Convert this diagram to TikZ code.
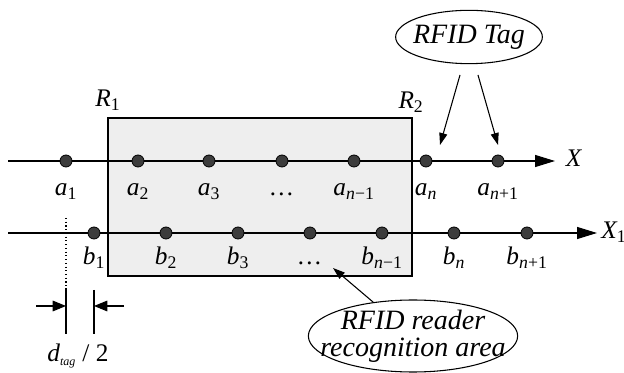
\documentclass[tikz,border=0pt]{standalone}
\usepackage{fontspec}
\setmainfont{Liberation Serif}
\usetikzlibrary{positioning, arrows.meta, shapes.geometric}
\definecolor{areagray}{RGB}{238,238,238}
\definecolor{dotgray}{RGB}{60,60,60}
\newcommand{\varsub}[2]{\textit{#1}\textsubscript{\upshape #2}}

\begin{document}
\begin{tikzpicture}[
    x=0.75pt, y=-0.75pt,
    every node/.style={font=\fontsize{19}{21}\selectfont\itshape},
    dot/.style={circle, draw=black, fill=dotgray, line width=0.6pt,
        inner sep=0pt, minimum size=9pt},
    lbl/.style={inner sep=0pt, text height=12pt, text depth=3pt},
    axis/.style={line width=0.9pt, -{Triangle[length=15pt,width=9pt]}},
    tagarrow/.style={line width=0.8pt, -{Triangle[length=9pt,width=6pt]}},
    dimarrow/.style={line width=0.8pt, -{Triangle[length=10pt,width=8pt]}},
    callout/.style={ellipse, draw=black, line width=0.8pt, align=center,
        font=\fontsize{21}{20}\selectfont\itshape},
    area/.style={draw=black, line width=1pt, fill=areagray},
]
\useasboundingbox (0,0) rectangle (624,373);

% ====== RECOGNITION AREA ======
\coordinate (R1-corner) at (108,118);
\coordinate (R2-corner) at (412,276);
\draw[area] (R1-corner) rectangle (R2-corner);
\node[lbl] (R1) at (108,101) {\varsub{R}{1}};
\node[lbl] (R2) at (411,103) {\varsub{R}{2}};

% ====== AXES ======
\coordinate (X-start)  at (8,161);
\coordinate (X-end)    at (555,161);
\coordinate (X1-start) at (8,233);
\coordinate (X1-end)   at (597,233);
\draw[axis] (X-start) -- (X-end);
\draw[axis] (X1-start) -- (X1-end);
\node[lbl, right=8pt of X-end]  (X)  {\textit{X}};
\node[lbl, right=3pt of X1-end] (X1) {\varsub{X}{1}};

% ====== TAG POSITIONS ======
\foreach \name/\x/\txt in {a1/66/\varsub{a}{1}, a2/138/\varsub{a}{2},
    a3/209/\varsub{a}{3}, a4/282/\ldots, an-1/354/\varsub{a}{\textit{n}−1},
    an/426/\varsub{a}{\textit{n}}, an+1/498/\varsub{a}{\textit{n}+1}}
{
    \node[dot] (\name) at (\x,161) {};
    \node[lbl, below=9pt of \name] (\name-lbl) {\txt};
}
\foreach \name/\x/\txt in {b1/94/\varsub{b}{1}, b2/166/\varsub{b}{2},
    b3/238/\varsub{b}{3}, b4/310/\ldots, bn-1/382/\varsub{b}{\textit{n}−1},
    bn/454/\varsub{b}{\textit{n}}, bn+1/527/\varsub{b}{\textit{n}+1}}
{
    \node[dot] (\name) at (\x,233) {};
    \node[lbl, below=7pt of \name] (\name-lbl) {\txt};
}

% ====== CALLOUTS ======
\node[callout, minimum width=108pt, minimum height=40pt, inner sep=-3pt]
    (tag) at (469,37) {RFID Tag};
\coordinate (tag-s1) at (460,75);
\coordinate (tag-e1) at (440,145);
\coordinate (tag-s2) at (478,75);
\coordinate (tag-e2) at (498,145);
\draw[tagarrow] (tag-s1) -- (tag-e1);
\draw[tagarrow] (tag-s2) -- (tag-e2);

\node[callout, minimum width=150pt, minimum height=54pt, inner sep=-14pt]
    (reader) at (413,336) {RFID reader\\recognition area};
\coordinate (area-pt) at (333,268);
\draw[tagarrow] (reader) -- (area-pt);

% ====== d_tag / 2 ======
\coordinate (dl-top) at (66,218);
\coordinate (dl-mid) at (66,288);
\coordinate (dl-bot) at (66,334);
\coordinate (dr-top) at (94,290);
\coordinate (dr-bot) at (94,334);
\draw[dotted, line width=0.8pt] (dl-top) -- (dl-mid);
\draw[line width=0.8pt] (dl-mid) -- (dl-bot);
\draw[line width=0.8pt] (dr-top) -- (dr-bot);
\coordinate (dl-out) at (36,306);
\coordinate (dl-in)  at (66,306);
\coordinate (dr-out) at (124,306);
\coordinate (dr-in)  at (94,306);
\draw[dimarrow] (dl-out) -- (dl-in);
\draw[dimarrow] (dr-out) -- (dr-in);
\node[lbl] (dtag) at (78,356)
    {\textit{d}\textsubscript{\fontsize{9}{9}\selectfont\itshape tag}\ \upshape/ 2};

\end{tikzpicture}
\end{document}
